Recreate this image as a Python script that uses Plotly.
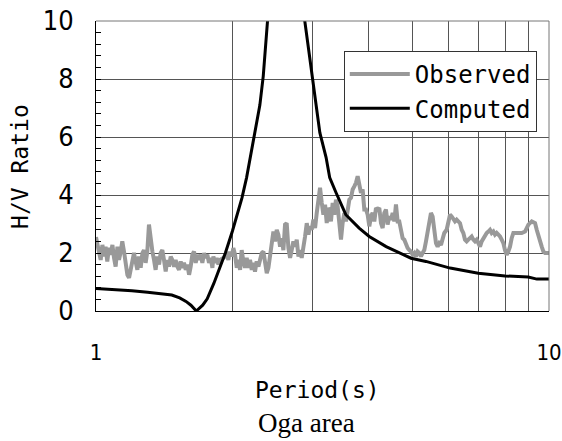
import plotly.graph_objects as go

# ---------------- data ----------------
obs_period = [
    1.000, 1.008, 1.015, 1.024, 1.033, 1.042, 1.050, 1.059, 1.068, 1.077, 1.087, 1.096, 1.105, 1.115,
    1.124, 1.134, 1.143, 1.153, 1.163, 1.173, 1.183, 1.193, 1.203, 1.213, 1.223, 1.234, 1.244, 1.255,
    1.266, 1.276, 1.287, 1.298, 1.309, 1.320, 1.332, 1.343, 1.354, 1.366, 1.378, 1.389, 1.401, 1.413,
    1.425, 1.437, 1.449, 1.462, 1.474, 1.487, 1.499, 1.512, 1.525, 1.538, 1.551, 1.564, 1.578, 1.591,
    1.605, 1.618, 1.632, 1.646, 1.660, 1.674, 1.688, 1.703, 1.717, 1.732, 1.746, 1.761, 1.776, 1.791,
    1.807,
    1.816, 1.831, 1.847, 1.863, 1.878, 1.911, 1.943, 1.960, 1.976, 1.993, 2.010, 2.027, 2.045, 2.062,
    2.080, 2.097, 2.115, 2.133, 2.151, 2.170, 2.188, 2.207, 2.225, 2.244, 2.263, 2.283, 2.302, 2.322,
    2.342, 2.361, 2.382, 2.402, 2.422, 2.443, 2.464, 2.485, 2.506, 2.527, 2.549, 2.570, 2.592, 2.614,
    2.636, 2.659, 2.682, 2.704, 2.727, 2.751, 2.774, 2.798, 2.821, 2.845, 2.870, 2.894, 2.919, 2.944,
    2.969, 2.994, 3.019, 3.045, 3.071, 3.097, 3.123, 3.150, 3.177, 3.204, 3.231, 3.259,
    3.274, 3.301, 3.330, 3.358, 3.386, 3.415, 3.444, 3.474, 3.503, 3.533, 3.563, 3.593, 3.624, 3.655,
    3.686, 3.717, 3.749, 3.781, 3.813, 3.845, 3.878, 3.911, 3.944, 3.978, 4.012, 4.046, 4.080, 4.115,
    4.150, 4.185, 4.221, 4.257, 4.293, 4.329, 4.366, 4.403, 4.441, 4.479, 4.517, 4.555, 4.594, 4.633,
    4.672, 4.712, 4.752, 4.793, 4.833, 4.874, 4.916, 4.958, 5.000, 5.043, 5.085, 5.129, 5.172, 5.216,
    5.261, 5.305, 5.351, 5.396, 5.442, 5.488, 5.535, 5.582, 5.630, 5.678, 5.726, 5.775, 5.824, 5.873,
    5.944, 5.995, 6.046, 6.097, 6.149, 6.201, 6.254, 6.307, 6.361, 6.415, 6.470, 6.525, 6.580, 6.636,
    6.693, 6.750, 6.807, 6.865, 6.924, 6.983, 7.042, 7.102, 7.162, 7.223, 7.285, 7.347, 7.409, 7.472,
    7.536, 7.600, 7.665, 7.730, 7.796, 7.862, 7.929, 7.996, 8.064, 8.133, 8.202, 8.272, 8.343, 8.414,
    8.558, 8.705, 8.854, 9.006, 9.160, 9.316, 9.395, 9.475, 9.556, 9.637, 9.719, 9.802, 10.000,
]
obs_hv = [
    2.55, 2.20, 2.05, 1.76, 2.28, 1.88, 2.22, 1.71, 2.18, 1.94, 2.28, 1.83, 1.53, 2.22,
    1.76, 2.05, 2.40, 2.05, 1.66, 1.25, 1.14, 1.42, 1.76, 2.00, 1.71, 1.42, 1.88, 1.49,
    2.00, 2.10, 1.66, 2.05, 2.98, 2.35, 2.05, 1.76, 1.42, 1.88, 1.60, 2.00, 2.10, 1.76,
    1.36, 1.76, 1.53, 1.88, 1.76, 1.53, 1.76, 1.53, 1.42, 1.71, 1.49, 1.66, 1.42, 1.60,
    1.25, 1.53, 1.94, 2.05, 1.66, 1.94, 1.76, 1.94, 1.66, 2.00, 1.83, 1.94, 1.66, 1.83,
    1.49,
    1.88, 1.66, 1.83, 1.60, 1.76, 1.83, 1.94, 1.76, 2.05, 1.88, 2.17, 1.94, 1.49, 1.76,
    1.42, 2.10, 1.71, 1.49, 1.83, 1.49, 1.76, 1.42, 1.66, 1.36, 1.71, 1.53, 1.76, 2.00,
    2.05, 1.66, 1.30, 1.49, 1.83, 2.22, 2.74, 2.40, 2.80, 2.63, 2.22, 2.51, 2.10, 2.98,
    3.03, 2.17, 1.83, 2.10, 2.40, 2.22, 2.46, 1.88, 2.10, 1.83, 2.17, 2.57, 3.03, 2.63,
    2.92, 2.80, 3.15, 2.86, 3.38, 3.84, 4.25, 3.73, 3.32, 3.67, 3.03, 3.55,
    3.50, 3.09, 3.73, 3.32, 3.84, 3.61, 3.09, 2.46, 3.03, 3.38, 3.09, 3.50, 3.84, 3.90,
    4.19, 4.30, 4.42, 4.65, 4.42, 4.07, 4.19, 3.50, 3.50, 3.32, 2.92, 3.26, 3.38, 3.09,
    3.55, 3.50, 3.55, 3.03, 2.86, 3.38, 3.50, 2.98, 3.26, 3.15, 3.38, 3.09, 3.67, 3.09,
    3.09, 2.69, 2.51, 2.46, 2.28, 2.17, 2.10, 2.05, 1.94, 2.00, 1.88, 2.05, 2.00, 1.88,
    2.00, 2.10, 2.40, 2.80, 3.21, 3.38, 3.26, 2.80, 2.34, 2.22, 2.34, 2.28, 2.46, 2.69,
    2.80, 3.15, 3.32, 3.26, 3.15, 3.09, 3.15, 3.09, 3.03, 2.80, 2.69, 2.46, 2.40, 2.46,
    2.51, 2.57, 2.46, 2.40, 2.46, 2.34, 2.22, 2.40, 2.51, 2.63, 2.69, 2.74, 2.80, 2.69,
    2.74, 2.63, 2.69, 2.63, 2.57, 2.46, 2.34, 2.10, 1.94, 2.05, 2.22, 2.51, 2.69, 2.69,
    2.69, 2.69, 2.74, 2.98, 3.09, 3.03, 2.80, 2.57, 2.40, 2.22, 2.05, 2.00, 2.00,
]

comp_period = [
    1.00, 1.10, 1.20, 1.30, 1.40, 1.47, 1.53, 1.58, 1.62, 1.665, 1.72, 1.76, 1.82, 1.88,
    1.93, 2.00, 2.05, 2.10, 2.15, 2.20, 2.26, 2.30, 2.34, 2.37, 2.39, 2.45, 2.55, 2.65,
    2.75, 2.85, 2.89, 3.00, 3.12, 3.22, 3.28, 3.39, 3.56, 3.81, 4.01, 4.37, 4.96, 5.35,
    5.87, 6.05, 6.98, 8.00, 9.00, 9.40, 10.00,
]
comp_hv = [
    0.78, 0.75, 0.70, 0.65, 0.60, 0.55, 0.45, 0.33, 0.20, 0.00, 0.20, 0.42, 0.95, 1.50,
    2.00, 2.75, 3.30, 3.90, 4.60, 5.50, 6.40, 7.10, 8.10, 9.30, 10.5, 13.0, 17.0, 19.0,
    15.0, 11.0, 10.0, 8.10, 6.15, 5.30, 4.60, 4.07, 3.32, 2.86, 2.57, 2.22, 1.82, 1.71,
    1.53, 1.48, 1.30, 1.21, 1.17, 1.10, 1.10,
]

x_tick_vals = [1, 2, 3, 4, 5, 6, 7, 8, 9, 10]
x_tick_text = ["1", "", "", "", "", "", "", "", "", "10"]
series_names = ["Observed", "Computed"]

# ---------------- figure ----------------
MONO = "DejaVu Sans Mono, Liberation Mono, monospace"
NARROW = "Liberation Sans Narrow, DejaVu Sans Condensed, Liberation Sans, Arial"

fig = go.Figure()
fig.add_trace(go.Scatter(x=obs_period, y=obs_hv, mode="lines", name=series_names[0],
                         line=dict(color="#999999", width=4)))
fig.add_trace(go.Scatter(x=comp_period, y=comp_hv, mode="lines", name=series_names[1],
                         line=dict(color="#000000", width=3)))

fig.update_layout(
    template="none",
    width=562, height=441,
    margin=dict(l=96, r=13, t=21, b=130, pad=0),
    paper_bgcolor="white", plot_bgcolor="white",
    showlegend=True,
    legend=dict(x=0.547, y=0.897, xanchor="left", yanchor="top",
                bgcolor="white", bordercolor="#333333", borderwidth=1,
                font=dict(family=MONO, size=24, color="black"),
                tracegroupgap=0, itemwidth=60),
    xaxis=dict(type="log", range=[0, 1], tickvals=x_tick_vals, ticktext=x_tick_text,
               showgrid=True, gridcolor="#555555", gridwidth=1, zeroline=False,
               showline=True, linecolor="black", linewidth=1, ticks="",
               tickfont=dict(family=NARROW, size=22, color="black"),
               ticklabelstandoff=22, ticklabeloverflow="allow", automargin=False),
    yaxis=dict(range=[0, 10], dtick=2, tick0=0, showgrid=True, gridcolor="#555555",
               gridwidth=1, zeroline=False, showline=True, linecolor="black", linewidth=1,
               ticks="inside", ticklen=5, tickcolor="black",
               minor=dict(dtick=0.4, tick0=0, ticks="inside", ticklen=5, tickcolor="black",
                          showgrid=False),
               tickfont=dict(family=NARROW, size=27, color="black"),
               ticklabelstandoff=16, automargin=False),
    shapes=[
        dict(type="line", xref="paper", yref="paper", x0=0, x1=1, y0=1, y1=1,
             line=dict(color="#777777", width=1)),
        dict(type="line", xref="paper", yref="paper", x0=1, x1=1, y0=0, y1=1,
             line=dict(color="#777777", width=1)),
    ],
    annotations=[
        dict(text="Period(s)", xref="paper", yref="paper", x=0.49, y=-0.272,
             xanchor="center", yanchor="middle", showarrow=False,
             font=dict(family=MONO, size=23, color="black")),
        dict(text="H/V Ratio", xref="paper", yref="paper", x=-0.168, y=0.5,
             xanchor="center", yanchor="middle", showarrow=False, textangle=-90,
             font=dict(family=MONO, size=23, color="black")),
        dict(text="Oga area", xref="paper", yref="paper", x=0.4636, y=-0.387,
             xanchor="center", yanchor="middle", showarrow=False,
             font=dict(family="Liberation Serif, Times New Roman, serif", size=27,
                       color="black")),
    ],
)

fig.write_html("out.html")
